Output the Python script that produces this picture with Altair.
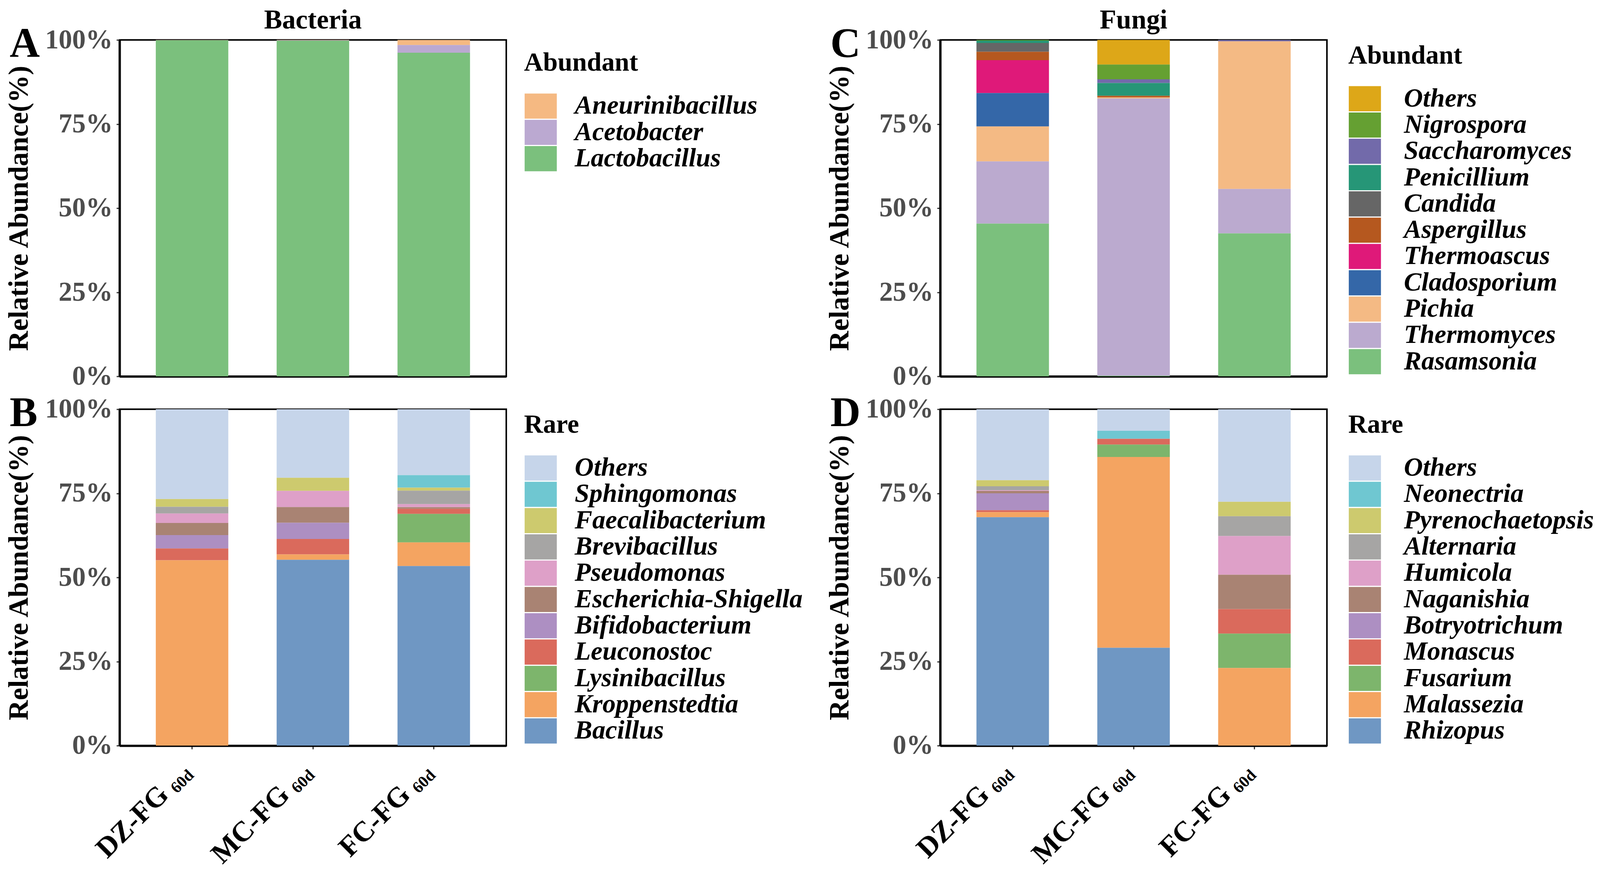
import altair as alt
import pandas as pd

# ---------------- data ----------------
samples = ["DZ-FG", "MC-FG", "FC-FG"]
sample_sub = "60d"
panel_letters = ["A", "B", "C", "D"]
kingdom_titles = ["Bacteria", "Fungi"]
y_tick_values = [0, 0.25, 0.5, 0.75, 1.0]

# Panel A - Bacteria, abundant (legend order = top of stack first)
bac_ab_taxa = ["Aneurinibacillus", "Acetobacter", "Lactobacillus"]
bac_ab_colors = ["#F5B982", "#BBA9D1", "#7BC07D"]
bac_ab_DZ = [0.05, 0.05, 99.9]
bac_ab_MC = [0.1, 0.1, 99.8]
bac_ab_FC = [1.5, 2.3, 96.2]

# Panel B - Bacteria, rare
bac_rare_taxa = ["Others", "Sphingomonas", "Faecalibacterium", "Brevibacillus",
                 "Pseudomonas", "Escherichia-Shigella", "Bifidobacterium",
                 "Leuconostoc", "Lysinibacillus", "Kroppenstedtia", "Bacillus"]
rare_colors = ["#C6D5EA", "#6FC7D1", "#CDCA6E", "#A6A5A4", "#DEA0C8", "#A98373",
               "#AD8FC2", "#DA6A5C", "#7DB56C", "#F4A461", "#6F97C3"]
bac_rare_DZ = [26.7, 0.0, 2.3, 2.0, 2.8, 3.6, 4.0, 3.5, 0.0, 55.1, 0.0]
bac_rare_MC = [20.4, 0.0, 3.9, 0.0, 4.8, 4.7, 4.8, 4.6, 0.0, 1.6, 55.3]
bac_rare_FC = [19.6, 3.7, 0.9, 4.0, 0.9, 0.5, 0.0, 1.5, 8.5, 7.0, 53.4]

# Panel C - Fungi, abundant
fun_ab_taxa = ["Others", "Nigrospora", "Saccharomyces", "Penicillium", "Candida",
               "Aspergillus", "Thermoascus", "Cladosporium", "Pichia",
               "Thermomyces", "Rasamsonia"]
fun_ab_colors = ["#DDA718", "#65A032", "#726AAA", "#269677", "#666666", "#B5581F",
                 "#DF1979", "#3467A8", "#F4BA84", "#BBAACF", "#7BC07D"]
fun_ab_DZ = [0.0, 0.2, 0.0, 0.7, 2.6, 2.5, 9.8, 9.9, 10.4, 18.5, 45.4]
fun_ab_MC = [7.3, 4.4, 1.1, 3.8, 0.0, 0.5, 0.0, 0.0, 0.3, 82.4, 0.2]
fun_ab_FC = [0.0, 0.0, 0.4, 0.0, 0.0, 0.0, 0.0, 0.0, 43.9, 13.2, 42.5]

# Panel D - Fungi, rare
fun_rare_taxa = ["Others", "Neonectria", "Pyrenochaetopsis", "Alternaria", "Humicola",
                 "Naganishia", "Botryotrichum", "Monascus", "Fusarium",
                 "Malassezia", "Rhizopus"]
fun_rare_DZ = [21.1, 0.0, 1.8, 1.2, 0.2, 0.7, 5.0, 0.6, 0.0, 1.5, 67.9]
fun_rare_MC = [6.4, 2.4, 0.0, 0.0, 0.0, 0.0, 0.0, 1.7, 3.7, 56.7, 29.1]
fun_rare_FC = [27.5, 0.0, 4.3, 5.9, 11.5, 10.2, 0.0, 7.3, 10.2, 23.1, 0.0]

# ---------------- styling ----------------
FONT = "Liberation Serif"
W, H = 1000, 870


def long_table(taxa, dz, mc, fc):
    rows = []
    n = len(taxa)
    for s, vals in zip(samples, [dz, mc, fc]):
        for i, (t, v) in enumerate(zip(taxa, vals)):
            rows.append({"sample": s, "taxon": t, "value": v, "ord": n - i})
    return pd.DataFrame(rows)


def panel(letter, taxa, colors, vals, legend_title, legend_x, legend_y,
          label_offset, bottom, title=None):
    df = long_table(taxa, *vals)
    xaxis = alt.Axis(title=None, labels=False, ticks=bottom, tickSize=9,
                     tickWidth=3, tickColor="#333333", domainColor="black",
                     domainWidth=6, grid=False)
    x = alt.X("sample:N", sort=samples,
              scale=alt.Scale(domain=samples, paddingInner=0.4, paddingOuter=0.3),
              axis=xaxis)
    yaxis = alt.Axis(values=y_tick_values, format=".0%",
                     title="Relative Abundance(%)", titleFont=FONT,
                     titleFontSize=72, titleFontWeight="bold", titleColor="black",
                     titlePadding=30, labelFont=FONT, labelFontSize=70,
                     labelFontWeight="bold", labelColor="#4D4D4D", labelPadding=10,
                     tickSize=8, tickWidth=3, tickColor="#333333",
                     domainColor="black", domainWidth=6, grid=False)
    legend = alt.Legend(title=legend_title, orient="none", direction="vertical",
                        legendX=legend_x, legendY=legend_y,
                        symbolType="M-1,-1H1.56V1H-1Z", symbolSize=4225,
                        symbolStrokeWidth=0, symbolOpacity=1, clipHeight=66,
                        rowPadding=0, labelOffset=label_offset, labelFont=FONT,
                        labelFontSize=68, labelFontStyle="italic",
                        labelFontWeight="bold", labelColor="black", labelLimit=2000,
                        titleFont=FONT, titleFontSize=68, titleFontWeight="bold",
                        titleColor="black", titlePadding=44, titleLimit=2000,
                        padding=0)
    bars = alt.Chart(df).mark_bar().encode(
        x=x,
        y=alt.Y("value:Q", stack="normalize",
                scale=alt.Scale(domain=[0, 1], nice=False), axis=yaxis),
        color=alt.Color("taxon:N", sort=taxa,
                        scale=alt.Scale(domain=taxa, range=colors), legend=legend),
        order=alt.Order("ord:Q", sort="ascending"),
    )
    letter_df = pd.DataFrame({"letter": [letter]})
    letter_mark = alt.Chart(letter_df).mark_text(
        align="left", baseline="alphabetic", font=FONT, fontSize=108,
        fontWeight="bold", color="black"
    ).encode(x=alt.value(-284), y=alt.value(44), text="letter:N")
    layers = [bars, letter_mark]
    if bottom:
        lab_df = pd.DataFrame({"sample": samples, "sub": [sample_sub] * len(samples)})
        main = alt.Chart(lab_df).mark_text(
            align="right", baseline="alphabetic", angle=315, font=FONT,
            fontSize=74, fontWeight="bold", color="black", dx=-72, dy=-8
        ).encode(x=x, y=alt.value(H + 86), text="sample:N")
        subm = alt.Chart(lab_df).mark_text(
            align="right", baseline="alphabetic", angle=315, font=FONT,
            fontSize=42, fontWeight="bold", color="black", dx=10
        ).encode(x=x, y=alt.value(H + 86), text="sub:N")
        layers += [main, subm]
    ch = alt.layer(*layers).properties(width=W, height=H)
    if title:
        ch = ch.properties(title=alt.TitleParams(
            text=title, font=FONT, fontSize=70, fontWeight="bold", color="black",
            anchor="middle", offset=-27))
    return ch


pA = panel(panel_letters[0], bac_ab_taxa, bac_ab_colors,
           (bac_ab_DZ, bac_ab_MC, bac_ab_FC), "Abundant", 1046, 26, 63, False,
           kingdom_titles[0])
pB = panel(panel_letters[1], bac_rare_taxa, rare_colors,
           (bac_rare_DZ, bac_rare_MC, bac_rare_FC), "Rare", 1046, 7, 63, True)
pC = panel(panel_letters[2], fun_ab_taxa, fun_ab_colors,
           (fun_ab_DZ, fun_ab_MC, fun_ab_FC), "Abundant", 1055, 7, 76, False,
           kingdom_titles[1])
pD = panel(panel_letters[3], fun_rare_taxa, rare_colors,
           (fun_rare_DZ, fun_rare_MC, fun_rare_FC), "Rare", 1055, 7, 76, True)

chart = alt.concat(
    pA, pC, pB, pD, columns=2, spacing={"row": 85, "column": 1122},
    bounds="flush",
).resolve_scale(color="independent", x="independent", y="independent").resolve_legend(
    color="independent").properties(
    padding={"left": 3, "top": -4, "right": 5, "bottom": 0},
    background="white",
).configure_view(stroke="black", strokeWidth=4)

chart.save("out.html", embed_options={"renderer": "svg", "actions": False})
